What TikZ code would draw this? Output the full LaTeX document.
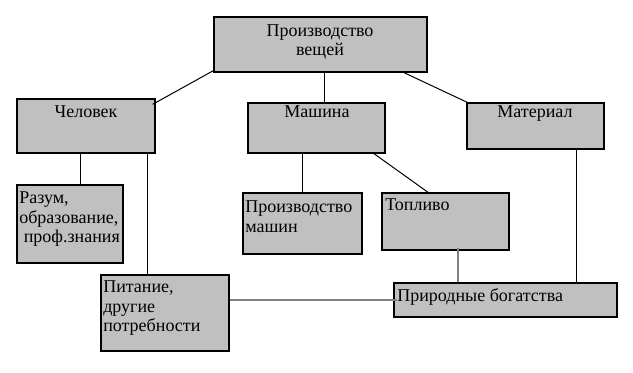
\documentclass[tikz,border=0pt]{standalone}
\usepackage{fontspec}
\setmainfont{Liberation Serif}
\usetikzlibrary{fit,calc}
\definecolor{boxgray}{HTML}{C0C0C0}
\definecolor{linegray}{HTML}{808080}
\newcommand{\mlL}[1]{\begin{tabular}[t]{@{}l@{}}#1\end{tabular}}
\newcommand{\mlC}[1]{\begin{tabular}[t]{@{}c@{}}#1\end{tabular}}
\begin{document}
\begin{tikzpicture}[x=0.75pt,y=-0.75pt,
  box/.style={draw=black, line width=1pt, fill=boxgray, inner sep=0pt},
  txt/.style={font=\fontsize{13.5}{14.6}\selectfont, inner sep=0pt, anchor=base west},
  ctxt/.style={font=\fontsize{13.5}{13.8}\selectfont, inner sep=0pt, anchor=base},
  thinline/.style={draw=black, line width=0.75pt},
  grayline/.style={draw=linegray, line width=1.6pt}]
\useasboundingbox[fill=white] (0,0) rectangle (633,373);
% helper coordinates
\coordinate (c80) at (80,0);
\coordinate (c147) at (147,0);
\coordinate (c302) at (302,0);
\coordinate (c324) at (324,0);
\coordinate (c374) at (374,0);
\coordinate (c404) at (404,0);
\coordinate (c428) at (428,0);
\coordinate (c458) at (458,0);
\coordinate (c576) at (576,0);
\coordinate (c300) at (0,300);
% boxes
\node[box, fit={(214,17)(427,72)}] (prod) {};
\node[box, fit={(17,99)(155,153)}] (chel) {};
\node[box, fit={(248,103)(385,153)}] (mash) {};
\node[box, fit={(467,103)(604,149)}] (mat) {};
\node[box, fit={(17,185)(123,263)}] (razum) {};
\node[box, fit={(243,193)(362,254)}] (pm) {};
\node[box, fit={(382,193)(509,250)}] (topl) {};
\node[box, fit={(101,275)(229,351)}] (pit) {};
\node[box, fit={(394,283)(617,317)}] (prir) {};
% connectors
\draw[thinline] ($(prod.south west)+(0,-2)$) -- ($(chel.north east)+(-3,6)$);
\draw[thinline] (prod.south -| c324) -- (mash.north -| c324);
\draw[thinline] (prod.south -| c404) -- ($(mat.north west)+(3,1)$);
\draw[thinline] (chel.south -| c80) -- (razum.north -| c80);
\draw[thinline] (chel.south -| c147) -- (pit.north -| c147);
\draw[thinline] (mash.south -| c302) -- (pm.north -| c302);
\draw[thinline] (mash.south -| c374) -- (topl.north -| c428);
\draw[thinline] (mat.south -| c576) -- (prir.north -| c576);
\draw[grayline] ($(topl.south -| c458)+(0,-3)$) -- (prir.north -| c458);
\draw[grayline] (pit.east |- c300) -- ($(prir.west |- c300)+(4,0)$);
% texts
\node[ctxt] (tprod) at (320,37) {\mlC{Производство\\вещей}};
\node[ctxt] (tchel) at (86,118) {Человек};
\node[ctxt] (tmash) at (317,118) {Машина};
\node[ctxt] (tmat) at (535,118) {Материал};
\node[txt] (trazum) at (19,204) {\mlL{Разум,\\образование,\\\ проф.знания}};
\node[txt] (tpm) at (245,213) {\mlL{Производство\\машин}};
\node[txt] (ttopl) at (385,211) {Топливо};
\node[txt] (tpit) at (103,293) {\mlL{Питание,\\другие\\потребности}};
\node[txt] (tprir) at (397,302) {Природные богатства};
\end{tikzpicture}
\end{document}
